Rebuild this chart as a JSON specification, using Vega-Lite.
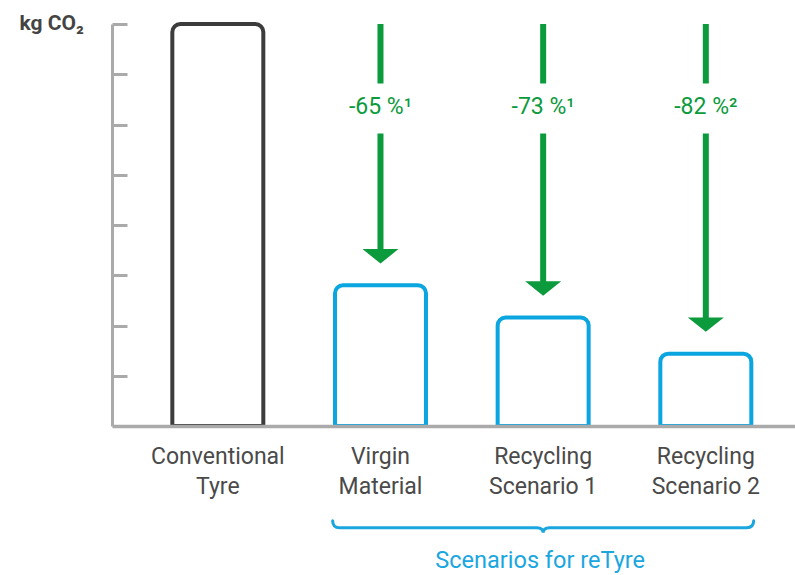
{
  "$schema": "https://vega.github.io/schema/vega-lite/v6.json",
  "width": 683,
  "height": 402,
  "autosize": {"type": "none"},
  "padding": {"left": 112, "top": 24, "right": 0, "bottom": 149},
  "background": "white",
  "config": {"view": {"stroke": null}, "bar": {"strokeWidth": 4}, "rect": {"strokeWidth": 4}},
  "datasets": {
    "bars": [
      {"cat": "Conventional|Tyre", "value": 100, "group": "Conventional", "label": null},
      {"cat": "Virgin|Material", "value": 35, "group": "reTyre", "label": "-65 %¹"},
      {"cat": "Recycling|Scenario 1", "value": 27, "group": "reTyre", "label": "-73 %¹"},
      {"cat": "Recycling|Scenario 2", "value": 18, "group": "reTyre", "label": "-82 %²"}
    ],
    "brace": [
      {"cat": "Recycling|Scenario 1", "text": "Scenarios for reTyre"}
    ]
  },
  "data": {"name": "bars"},
  "encoding": {
    "x": {
      "field": "cat",
      "type": "nominal",
      "sort": null,
      "scale": {"paddingInner": 0.4406, "paddingOuter": 0.3197, "align": 0.58, "round": false},
      "axis": {
        "title": null,
        "labelExpr": "split(datum.label, '|')",
        "labelAngle": 0,
        "labelFont": "Roboto",
        "labelFontSize": 23,
        "labelColor": "#4a4a4a",
        "labelPadding": 19,
        "labelLineHeight": 30,
        "labelBaseline": "top",
        "ticks": false,
        "domainColor": "#aaaaaa",
        "domainWidth": 3.5,
        "zindex": 1
      }
    }
  },
  "layer": [
    {
      "mark": {"type": "rect", "fill": "white", "strokeWidth": 4, "strokeOpacity": 1, "cornerRadiusTopLeft": 8, "cornerRadiusTopRight": 8},
      "encoding": {
        "y": {
          "field": "value",
          "type": "quantitative",
          "scale": {"domain": [0, 100], "nice": false, "zero": true},
          "axis": {
            "title": "kg CO₂",
            "titleAngle": 0,
            "titleAlign": "left",
            "titleBaseline": "middle",
            "titleX": -93,
            "titleY": -1,
            "titleFont": "Roboto",
            "titleFontSize": 21,
            "titleFontWeight": "bold",
            "titleColor": "#444444",
            "values": [12.5, 25, 37.5, 50, 62.5, 75, 87.5, 100],
            "labels": false,
            "grid": false,
            "tickSize": -15,
            "tickWidth": 3,
            "tickColor": "#aaaaaa",
            "domainColor": "#aaaaaa",
            "domainWidth": 3,
            "zindex": 1
          }
        },
        "y2": {"datum": 0},
        "stroke": {
          "field": "group",
          "type": "nominal",
          "scale": {"domain": ["Conventional", "reTyre"], "range": ["#3c3c3c", "#0ba5e0"]},
          "legend": null
        }
      }
    },
    {
      "transform": [{"filter": "datum.label != null"}],
      "mark": {"type": "rule", "color": "#0b9a3c", "strokeWidth": 6, "strokeCap": "butt", "yOffset": -32},
      "encoding": {
        "y": {"field": "value", "type": "quantitative"},
        "y2": {"datum": 100}
      }
    },
    {
      "transform": [{"filter": "datum.label != null"}],
      "mark": {"type": "point", "shape": "square", "filled": true, "fill": "white", "strokeWidth": 0, "opacity": 1, "size": 2500},
      "encoding": {
        "y": {"datum": 79, "type": "quantitative"}
      }
    },
    {
      "transform": [{"filter": "datum.label != null"}],
      "mark": {"type": "text", "font": "Roboto", "fontSize": 23, "color": "#0b9a3c", "baseline": "middle", "align": "center", "dy": -1},
      "encoding": {
        "y": {"datum": 79, "type": "quantitative"},
        "text": {"field": "label"}
      }
    },
    {
      "transform": [{"filter": "datum.label != null"}],
      "mark": {"type": "point", "shape": "M-1,-0.4L1,-0.4L0,0.4Z", "filled": true, "color": "#0b9a3c", "opacity": 1, "strokeWidth": 0, "size": 1296, "yOffset": -29},
      "encoding": {
        "y": {"field": "value", "type": "quantitative"}
      }
    },
    {
      "data": {"name": "brace"},
      "mark": {"type": "point", "shape": "M-1,-0.033Q-1,0,-0.967,0L-0.03,0Q0,0,0,0.024Q0,0,0.03,0L0.967,0Q1,0,1,-0.033", "filled": false, "stroke": "#1aa6df", "strokeWidth": 3, "opacity": 1, "size": 177241, "strokeCap": "round"},
      "encoding": {
        "x": {"field": "cat", "type": "nominal"},
        "y": {"datum": -25.3, "type": "quantitative"}
      }
    },
    {
      "data": {"name": "brace"},
      "mark": {"type": "text", "font": "Roboto", "fontSize": 23.5, "color": "#1aa6df", "baseline": "alphabetic", "align": "center", "dx": -3},
      "encoding": {
        "x": {"field": "cat", "type": "nominal"},
        "y": {"datum": -35.4, "type": "quantitative"},
        "text": {"field": "text"}
      }
    }
  ]
}
